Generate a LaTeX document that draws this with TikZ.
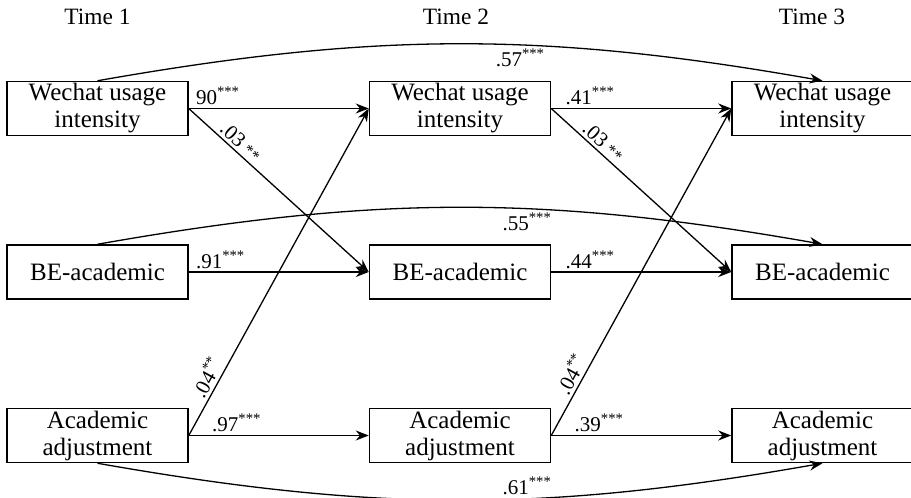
\documentclass[tikz,border=0pt]{standalone}
\usepackage{fontspec}
\setmainfont{Liberation Serif}
\usetikzlibrary{arrows.meta,positioning}

\begin{document}
\begin{tikzpicture}[-{Stealth[length=6.5pt,width=5pt]},line width=0.65pt,auto,
                    node distance=54pt and 90pt]
  \tikzset{var/.style={draw,line width=0.75pt,minimum width=90.5pt,minimum height=27pt,
                       inner sep=0pt,align=center,font=\fontsize{12.5}{13.5}\selectfont},
           coef/.style={font=\fontsize{10.5}{11}\selectfont,inner sep=1.5pt},
           wave/.style={font=\fontsize{11.7}{12}\selectfont}}
  \useasboundingbox (0,0) rectangle (455.5pt,-249pt);

  \node[wave] (T1) at (48.75pt,-8.5pt) {Time 1};
  \node[wave] (T2) at (228pt,-8.5pt)   {Time 2};
  \node[wave] (T3) at (406pt,-8.5pt)   {Time 3};

  \node[var] (W1) at (48.75pt,-54.25pt) {Wechat usage\\intensity};
  \node[var] (W2) [right=of W1]         {Wechat usage\\intensity};
  \node[var] (W3) [right=of W2]         {Wechat usage\\intensity};
  \node[var] (B1) [below=of W1]         {BE-academic};
  \node[var] (B2) [below=of W2]         {BE-academic};
  \node[var] (B3) [below=of W3]         {BE-academic};
  \node[var] (A1) [below=of B1]         {Academic\\adjustment};
  \node[var] (A2) [below=of B2]         {Academic\\adjustment};
  \node[var] (A3) [below=of B3]         {Academic\\adjustment};

  % stability paths
  \path (W1) edge node[coef,pos=0.02,above right] {90\textsuperscript{***}} (W2)
        (W2) edge node[coef,pos=0.06,above right] {.41\textsuperscript{***}} (W3)
        (B1) edge node[coef,pos=0.02,above right] {.91\textsuperscript{***}} (B2)
        (B2) edge node[coef,pos=0.06,above right] {.44\textsuperscript{***}} (B3)
        (A1) edge node[coef,pos=0.11,above right] {.97\textsuperscript{***}} (A2)
        (A2) edge node[coef,pos=0.11,above right] {.39\textsuperscript{***}} (A3);

  % cross-lagged paths
  \path (W1.east) edge node[coef,pos=0.25,sloped,above] {.03 {\footnotesize**}} (B2.west)
        (W2.east) edge node[coef,pos=0.25,sloped,above] {.03 {\footnotesize**}} (B3.west)
        (A1.east) edge node[coef,pos=0.16,sloped,above] {.04\textsuperscript{**}} (W2.west)
        (A2.east) edge node[coef,pos=0.17,sloped,above] {.04\textsuperscript{**}} (W3.west);

  % time 1 to time 3
  \path (W1.north) edge [bend left=10]  node[coef,pos=0.59,below] {.57\textsuperscript{***}} (W3.north)
        (B1.north) edge [bend left=10]  node[coef,pos=0.6,below]  {.55\textsuperscript{***}} (B3.north)
        (A1.south) edge [bend right=10] node[coef,pos=0.6,above]  {.61\textsuperscript{***}} (A3.south);
\end{tikzpicture}
\end{document}
